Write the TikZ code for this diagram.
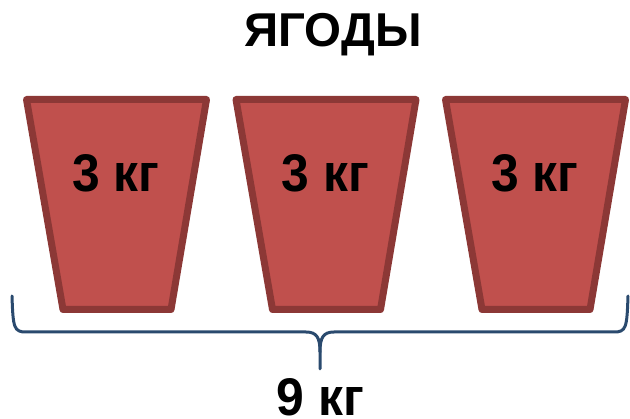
\documentclass[tikz,border=0pt]{standalone}
\usepackage{fontspec}
\setmainfont{Liberation Sans}
\definecolor{bucketfill}{HTML}{C0504D}
\definecolor{bucketline}{HTML}{8C3836}
\definecolor{braceblue}{HTML}{2A4A6E}
\newcommand{\wtext}[1]{\scalebox{0.94}[1]{#1}}
\begin{document}
\begin{tikzpicture}[x=1pt,y=-1pt,
  bucket/.style={fill=bucketfill,draw=bucketline,line width=7pt,line join=round},
  weight/.style={font=\fontsize{53}{58}\selectfont\bfseries,inner sep=0pt,anchor=center},
  bracepath/.style={draw=braceblue,line width=3pt,line cap=round}]
  \useasboundingbox (0,0) rectangle (630,419);
  % title
  \node[font=\fontsize{47.5}{52}\selectfont\bfseries,inner sep=0pt] (title) at (333,35) {ЯГОДЫ};
  % three buckets
  \foreach \i/\dx in {1/0,2/209.5,3/419} {
    \begin{scope}[xshift=\dx]
      \path[bucket] (26.5,99.5) -- (206.5,99.5) -- (171,309.5) -- (63,309.5) -- cycle;
      \node[weight] (w\i) at (116,173) {\wtext{3 кг}};
    \end{scope}
  }
  % brace under the buckets
  \coordinate (bl) at (12,296);
  \coordinate (br) at (628,296);
  \coordinate (tip) at (320,369);
  \draw[bracepath] (bl) .. controls (13,328) and (14,332) .. (26,332) -- (306,332)
    .. controls (317,332) and (320,338) .. (320,352) -- (tip);
  \draw[bracepath] (br) .. controls (627,328) and (626,332) .. (614,332) -- (334,332)
    .. controls (323,332) and (320,338) .. (320,352);
  % total
  \node[weight] (total) at (320.5,397) {\wtext{9 кг}};
\end{tikzpicture}
\end{document}
